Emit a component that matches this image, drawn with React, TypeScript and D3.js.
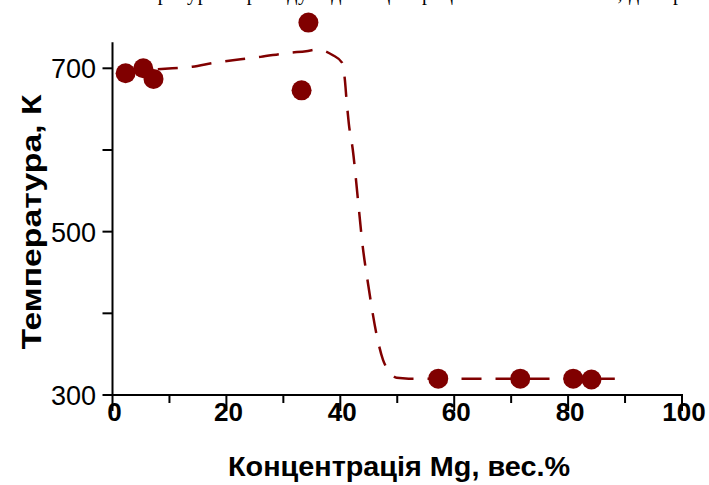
import React from 'react';
import * as d3 from 'd3';

const width = 709;
const height = 485;
const red = '#800000';

// measured points
const pointsX = [2.3, 5.4, 7.2, 33.2, 34.4, 57.2, 71.6, 80.9, 84.1];
const pointsT = [694, 700, 687, 673, 756, 320, 320, 320, 319];

// dashed guide curve
const curveX = [2, 6, 10.5, 14, 18, 22.5, 26, 31, 34, 36, 38.7, 40.3, 40.8, 41.1, 41.5, 42.2, 43.1, 43.9, 44.9, 46.4, 47.5, 48.7, 49.9, 52, 60, 70, 80, 88.2];
const curveT = [696, 698, 700, 702, 707, 711, 714, 719, 721, 723, 716, 707, 686, 661, 632, 600, 539, 484, 435, 373, 343, 328, 321, 320, 320, 320, 320, 320];

const xTicks = [0, 20, 40, 60, 80, 100];
const xMinor = [10, 30, 50, 70, 90];
const yTicks = [300, 500, 700];
const yMinor = [400, 600];

const xTitle = 'Концентрація Mg, вес.%';
const yTitle = 'Температура, К';
const topLine = 'залежність температури переходу від концентрації магнію в сплаві, див. рис.';

export default function App() {
  const x = d3.scaleLinear().domain([0, 100]).range([112.5, 682]);
  const y = d3.scaleLinear().domain([300, 700]).range([395, 68.3]);
  const yTop = y(732);

  const line = d3
    .line<number>()
    .x((d, i) => x(curveX[i]))
    .y((d) => y(d))
    .curve(d3.curveMonotoneX);

  return (
    <svg width={width} height={height} style={{ position: 'absolute', left: 0, top: 0, background: '#fff' }}>
      {/* bottom of a text line from the page above, cut by the frame */}
      <text x={-2} y={0} fontFamily="Liberation Serif, Times New Roman, serif" fontSize={20} textLength={712} lengthAdjust="spacing" fill="#000">
        {topLine}
      </text>

      <path d={line(curveT) || ''} fill="none" stroke={red} strokeWidth={2.5} strokeDasharray="20 14" />

      {/* axes */}
      <g stroke="#000" strokeWidth={2}>
        <line x1={x(0)} x2={x(0)} y1={yTop} y2={y(300)} />
        <line x1={x(0)} x2={x(100) + 1} y1={y(300)} y2={y(300)} />
        {xTicks.map((t) => (
          <line key={'xt' + t} x1={x(t)} x2={x(t)} y1={y(300)} y2={y(300) + 16} />
        ))}
        {xMinor.map((t) => (
          <line key={'xm' + t} x1={x(t)} x2={x(t)} y1={y(300)} y2={y(300) + 8} />
        ))}
        {yTicks.map((t) => (
          <line key={'yt' + t} x1={x(0) - 10} x2={x(0)} y1={y(t)} y2={y(t)} />
        ))}
        {yMinor.map((t) => (
          <line key={'ym' + t} x1={x(0) - 10} x2={x(0)} y1={y(t)} y2={y(t)} />
        ))}
      </g>

      <g fontFamily="Arial, Liberation Sans, sans-serif" fill="#000">
        {xTicks.map((t) => (
          <text key={'xl' + t} x={x(t) + 2} y={421} fontSize={26} fontWeight="bold" textAnchor="middle">
            {t}
          </text>
        ))}
        {yTicks.map((t) => (
          <text key={'yl' + t} x={96} y={y(t) + 10} fontSize={27} textAnchor="end">
            {t}
          </text>
        ))}
        <text x={399} y={476} fontSize={28} fontWeight="bold" textAnchor="middle" textLength={342} lengthAdjust="spacingAndGlyphs">
          {xTitle}
        </text>
        <text
          transform={`translate(41,222) rotate(-90)`}
          fontSize={28}
          fontWeight="bold"
          textAnchor="middle"
          textLength={255}
          lengthAdjust="spacingAndGlyphs"
        >
          {yTitle}
        </text>
      </g>

      {pointsX.map((px, i) => (
        <circle key={'p' + i} cx={x(px)} cy={y(pointsT[i])} r={10} fill={red} />
      ))}
    </svg>
  );
}
